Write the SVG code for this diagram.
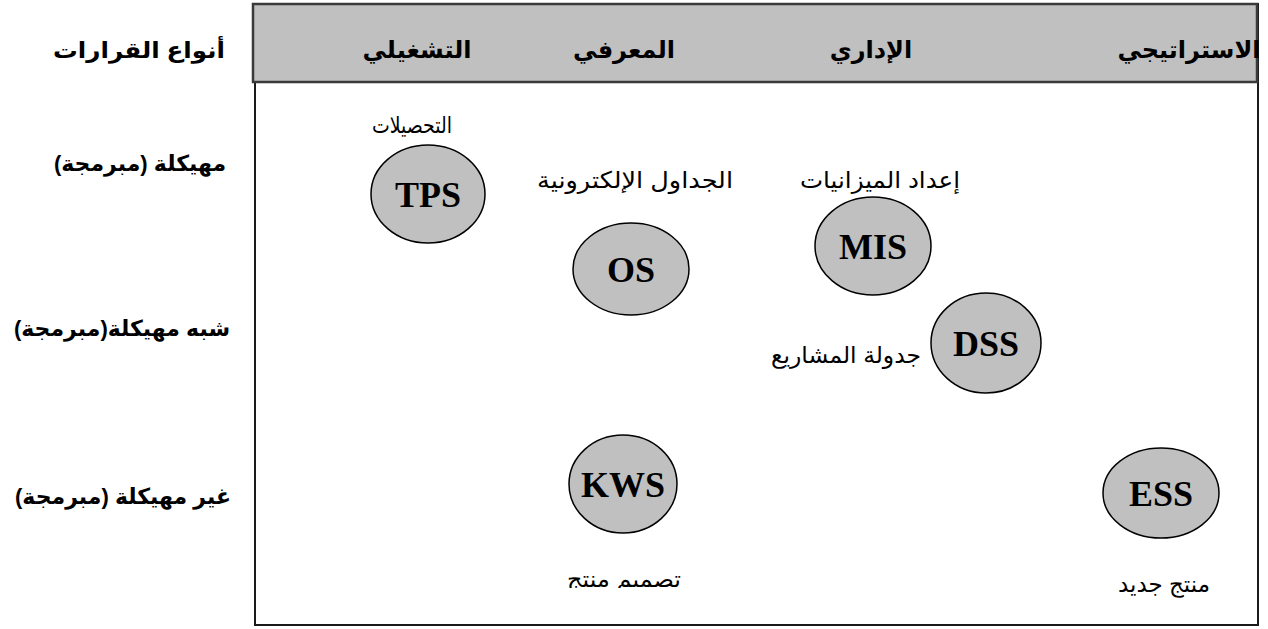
<svg xmlns="http://www.w3.org/2000/svg" width="1268" height="629" viewBox="0 0 1268 629">
  <style>
    .frame { fill: #ffffff; stroke: #1a1a1a; stroke-width: 2; }
    .band { fill: #c0c0c0; stroke: #3a3a3a; stroke-width: 2.5; }
    .node { fill: #c0c0c0; stroke: #000000; stroke-width: 1.5; }
    .code { font-family: "Liberation Serif", "Times New Roman", serif; font-weight: bold; font-size: 36px; fill: #000; text-anchor: middle; }
    .head { font-family: "Liberation Sans", "DejaVu Sans", sans-serif; font-weight: bold; font-size: 22px; fill: #000; text-anchor: middle; }
    .col { font-size: 24px; }
    .note { font-family: "Liberation Sans", "DejaVu Sans", sans-serif; font-size: 23px; fill: #000; text-anchor: middle; }
  </style>
  <defs>
    <clipPath id="cut-bottom">
      <rect x="540" y="540" width="180" height="48"/>
    </clipPath>
  </defs>

  <rect width="1268" height="629" fill="#ffffff"/>

  <!-- matrix frame and header band -->
  <g id="frame">
    <rect class="frame" x="255" y="4" width="1003" height="621"/>
    <rect class="band" x="253" y="4" width="1004" height="78"/>
  </g>

  <!-- column headings -->
  <g id="columns">
    <text class="head col" x="1189" y="58">الاستراتيجي</text>
    <text class="head col" x="871" y="58">الإداري</text>
    <text class="head col" x="624" y="58">المعرفي</text>
    <text class="head col" x="417" y="58">التشغيلي</text>
  </g>

  <!-- row headings -->
  <g id="rows">
    <text class="head" x="139" y="58" textLength="172" lengthAdjust="spacingAndGlyphs">أنواع القرارات</text>
    <text class="head" x="140" y="171">مهيكلة (مبرمجة)</text>
    <text class="head" x="122" y="336">شبه مهيكلة(مبرمجة)</text>
    <text class="head" x="123" y="504">غير مهيكلة (مبرمجة)</text>
  </g>

  <g id="connectors"/>

  <g id="tps">
    <ellipse class="node" cx="428" cy="194" rx="57" ry="49"/>
    <text class="code" x="428" y="207">TPS</text>
    <text class="note" x="412" y="133" textLength="80" lengthAdjust="spacingAndGlyphs">التحصيلات</text>
  </g>

  <g id="os">
    <ellipse class="node" cx="631" cy="269" rx="58" ry="46"/>
    <text class="code" x="631" y="282">OS</text>
    <text class="note" x="635" y="188" textLength="196" lengthAdjust="spacingAndGlyphs">الجداول الإلكترونية</text>
  </g>

  <g id="mis">
    <ellipse class="node" cx="873" cy="246" rx="58" ry="49"/>
    <text class="code" x="873" y="259">MIS</text>
    <text class="note" x="880" y="188" textLength="160" lengthAdjust="spacingAndGlyphs">إعداد الميزانيات</text>
  </g>

  <g id="dss">
    <ellipse class="node" cx="986" cy="343" rx="55" ry="50"/>
    <text class="code" x="986" y="356">DSS</text>
    <text class="note" x="846" y="363" textLength="150" lengthAdjust="spacingAndGlyphs">جدولة المشاريع</text>
  </g>

  <g id="kws">
    <ellipse class="node" cx="623" cy="484" rx="54" ry="49"/>
    <text class="code" x="623" y="497">KWS</text>
    <text class="note" x="624" y="587" textLength="114" lengthAdjust="spacingAndGlyphs" clip-path="url(#cut-bottom)">تصميم منتج</text>
  </g>

  <g id="ess">
    <ellipse class="node" cx="1161" cy="493" rx="58" ry="45"/>
    <text class="code" x="1161" y="506">ESS</text>
    <text class="note" x="1164" y="592" textLength="92" lengthAdjust="spacingAndGlyphs">منتج جديد</text>
  </g>
</svg>
